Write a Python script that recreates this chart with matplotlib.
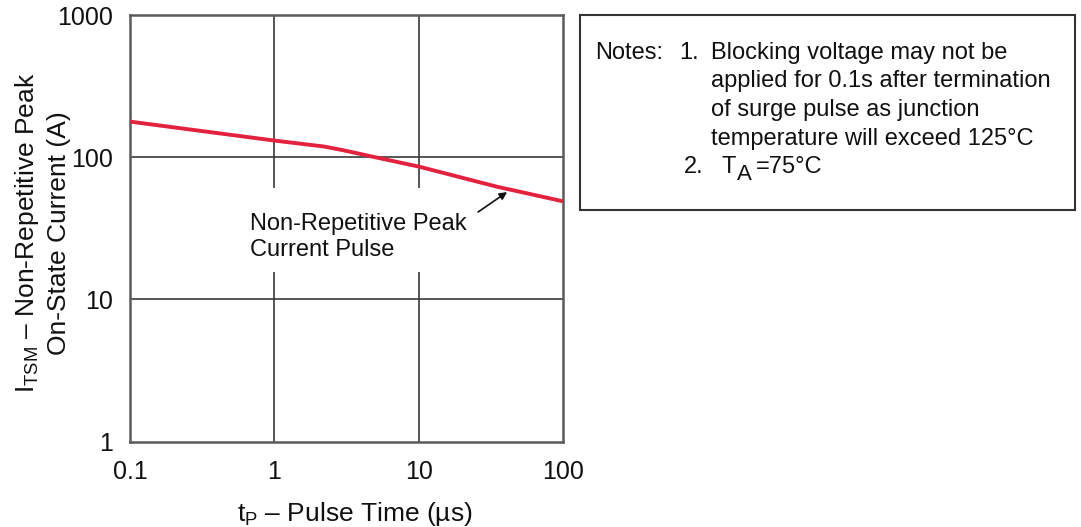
import matplotlib
matplotlib.use("Agg")
import matplotlib.pyplot as plt
from matplotlib.patches import Rectangle

plt.rcParams['font.family'] = ['Liberation Sans', 'DejaVu Sans']
plt.rcParams['mathtext.fontset'] = 'custom'
plt.rcParams['mathtext.rm'] = 'Liberation Sans'
plt.rcParams['mathtext.it'] = 'Liberation Sans'

# curve
pulse_time = [0.1, 1, 2.2, 3, 5, 10, 35, 100]
peak_current = [178, 131, 119, 112, 100, 86, 62, 49]

x_ticks = [0.1, 1, 10, 100]
x_tick_labels = ["0.1", "1", "10", "100"]
y_ticks = [1, 10, 100, 1000]
y_tick_labels = ["1", "10", "100", "1000"]

note_lines = ["Blocking voltage may not be",
              "applied for 0.1s after termination",
              "of surge pulse as junction",
              "temperature will exceed 125°C"]

txt_col = "#111111"
W, H = 1081, 527

fig = plt.figure(figsize=(10.81, 5.27), dpi=100)
ax = fig.add_axes([0.1203, 0.1619, 0.4005, 0.8096])

ax.set_xscale("log")
ax.set_yscale("log")
ax.set_xlim(0.1, 100)
ax.set_ylim(1, 1000)

grid_col = "#3a3a3a"
# grid lines (vertical ones are broken behind the label, like the original)
ax.hlines([10, 100], 0.1, 100, color=grid_col, lw=1.2, zorder=1)
ax.vlines([1, 10], 1, 15.6, color=grid_col, lw=1.2, zorder=1)
ax.vlines([1, 10], 60.7, 1000, color=grid_col, lw=1.2, zorder=1)

ax.plot(pulse_time, peak_current, color="#e3223f", lw=2.8, zorder=3,
        solid_capstyle="butt")

ax.text(0.679, 27.5, "Non-Repetitive Peak\nCurrent Pulse", fontsize=17,
        va="center", ha="left", linespacing=1.25, color=txt_col)
ax.annotate("", xy=(41, 56.9), xytext=(25.8, 41.2),
            arrowprops=dict(arrowstyle="-|>", color=txt_col, lw=1.2,
                            shrinkA=0, shrinkB=0, mutation_scale=11))

ax.set_xticks(x_ticks)
ax.set_xticklabels(x_tick_labels)
ax.set_yticks(y_ticks)
ax.set_yticklabels(y_tick_labels)
ax.minorticks_off()
ax.tick_params(length=0, labelsize=18, colors=txt_col)
ax.tick_params(axis="x", pad=13)
ax.tick_params(axis="y", pad=12)

for s in ax.spines.values():
    s.set_color("#5a5a5a")
    s.set_linewidth(1.8)

# axis titles placed as figure text
fig.text(355 / W, 1 - 514 / H, "t$_{\\rm P}$ – Pulse Time (µs)", fontsize=19,
         ha="center", va="center", color=txt_col)
fig.text(42 / W, 1 - 233 / H,
         "I$_{\\rm TSM}$ – Non-Repetitive Peak\nOn-State Current (A)",
         fontsize=19, rotation=90, ha="center", va="center",
         multialignment="center", linespacing=1.35, color=txt_col)

# notes box
fig.patches.append(Rectangle((580 / W, 1 - 210 / H), 495 / W, 195 / H,
                             transform=fig.transFigure, fill=False,
                             edgecolor="#333333", lw=1.5))
fs = 17
y0 = 1 - 53 / H
dy = 28.5 / H
fig.text(595 / W, y0, "Notes:", fontsize=fs, va="center", color=txt_col)
fig.text(679 / W, y0, "1.", fontsize=fs, va="center", color=txt_col)
for i, line in enumerate(note_lines):
    fig.text(711 / W, y0 - i * dy, line, fontsize=fs, va="center",
             color=txt_col)
y5 = y0 - 4 * dy
fig.text(684 / W, y5, "2.", fontsize=fs, va="center", color=txt_col)
fig.text(721 / W, y5, "T", fontsize=fs, va="center", color=txt_col)
fig.text(737 / W, y5 - 7 / H, "A", fontsize=16, va="center", color=txt_col)
fig.text(756 / W, y5, "=75°C", fontsize=fs, va="center", color=txt_col)

fig.savefig("out.png", dpi=100)
